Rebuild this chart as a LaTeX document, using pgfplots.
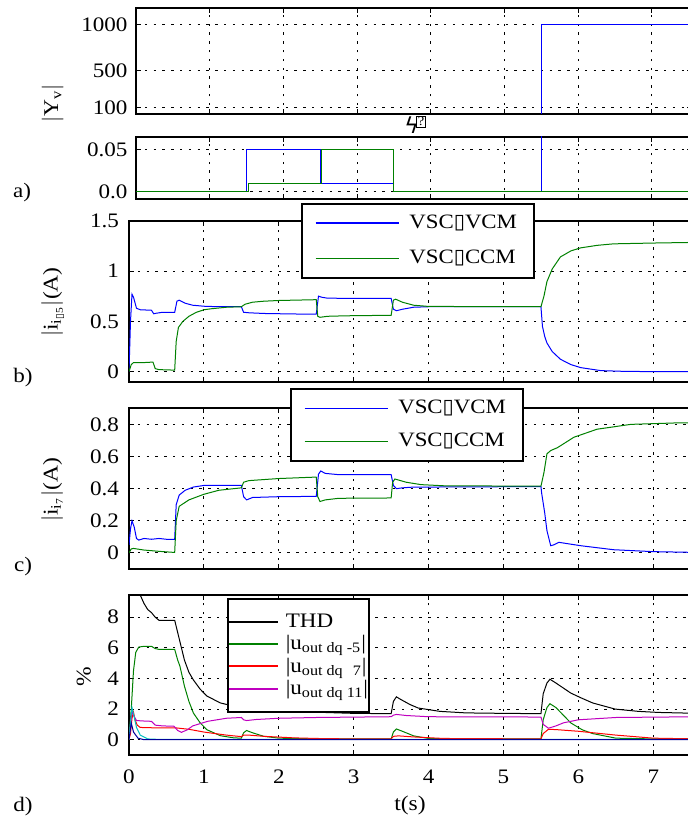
\documentclass[border=0pt]{standalone}
\usepackage{fontspec}
\setmainfont{Liberation Serif}[FakeStretch=1.12]
\newfontfamily\dejavu{DejaVu Sans}
\usepackage{amsmath}
\usepackage{pgfplots}
\pgfplotsset{compat=1.18}

\definecolor{mblue}{RGB}{0,0,255}
\definecolor{mgreen}{RGB}{0,128,0}
\definecolor{mred}{RGB}{255,0,0}
\definecolor{mmag}{RGB}{191,0,191}
\definecolor{mcyan}{RGB}{0,191,191}

% missing-glyph box as it appears in the original
\newcommand{\bx}{{\dejavu ▯}}

\pgfplotsset{
  panel/.style={
    scale only axis, anchor=north west,
    xmin=0, xmax=7.55,
    xtick={0,...,7},
    tick align=inside, major tick length=2.5pt,
    tick style={black, line width=0.5pt},
    grid=major,
    grid style={black, line width=0.5pt, dash pattern=on 1.2pt off 3.2pt},
    axis line style={line width=0.9pt},
    tick label style={font=\fontsize{10.3}{12}\selectfont},
    /pgf/number format/assume math mode=true,
    /pgf/number format/1000 sep={},
    scaled y ticks=false,
    yticklabel style={xshift=-1.5pt},
    no markers,
  },
}

\begin{document}
\begin{tikzpicture}

% ---------- a) upper part
\begin{axis}[panel, at={(68pt,-4pt)}, width=278.2pt, height=53pt,
  ymin=29, ymax=1176, ytick={100,500,1000}, xticklabels={},
  yticklabel style={xshift=0.8pt}]
\addplot[mblue, line width=0.5pt] coordinates {(5.5,0) (5.5,1000) (7.6,1000)};
\end{axis}

% ---------- a) lower part
\begin{axis}[panel, at={(68pt,-68.35pt)}, width=278.2pt, height=31.3pt,
  ymin=-0.009, ymax=0.0655, ytick={0,0.05}, yticklabels={0.0,0.05}, xticklabels={},
  yticklabel style={xshift=0.8pt}]
\addplot[mblue, line width=0.5pt] coordinates {(0,0) (1.5,0) (1.5,0.05) (2.5,0.05) (2.5,0.01) (3.5,0.01) (3.5,0) (5.5,0) (5.5,0.2)};
\addplot[mgreen, line width=0.5pt] coordinates {(0,0) (1.52,0) (1.52,0.01) (2.52,0.01) (2.52,0.05) (3.5,0.05) (3.5,0) (7.6,0)};
\end{axis}

% ---------- b)
\begin{axis}[panel, at={(64.5pt,-110.35pt)}, width=282.75pt, height=80.5pt,
  ymin=-0.1, ymax=1.5, ytick={0,0.5,1,1.5}, xticklabels={},
  ylabel={$|$i\textsubscript{i\textsubscript{\bx5}}$|$(A)},
  ylabel style={at={(axis description cs:-0.1264,0.495)}, anchor=base, font=\fontsize{10.5}{12}\selectfont},
  legend style={at={(axis description cs:0.3042,1.110)}, anchor=north west,
    draw=black, line width=0.9pt, fill=white,
    inner xsep=6.5pt, inner ysep=3.5pt, row sep=5.5pt, column sep=3pt,
    font=\fontsize{10.2}{12}\selectfont, cells={anchor=west}},
  legend image code/.code={\draw[#1, line width=0.7pt] (0pt,0pt) -- (41.5pt,0pt);}]
\addplot[mblue, line width=0.5pt] coordinates {
(0,0) (0.02,0.5) (0.04,0.77) (0.06,0.74) (0.1,0.63) (0.15,0.615) (0.3,0.61) (0.33,0.575)
(0.36,0.58) (0.45,0.59) (0.61,0.59) (0.64,0.7) (0.67,0.71) (0.75,0.68) (0.85,0.66) (1.0,0.65)
(1.2,0.645) (1.5,0.645) (1.53,0.59) (1.6,0.585) (1.8,0.578) (2.2,0.573) (2.5,0.571) (2.53,0.75)
(2.57,0.74) (2.65,0.73) (3.0,0.728) (3.5,0.728) (3.53,0.62) (3.57,0.605) (3.65,0.62) (3.8,0.64)
(4.0,0.645) (5.5,0.645) (5.52,0.45) (5.55,0.35) (5.58,0.285) (5.65,0.2) (5.76,0.123) (5.9,0.07)
(6.03,0.04) (6.3,0.01) (6.6,0.003) (7.0,0.0) (7.6,0.0)};
\addlegendentry{VSC\bx VCM}
\addplot[mgreen, line width=0.5pt] coordinates {
(0,0) (0.03,0.07) (0.06,0.09) (0.2,0.09) (0.32,0.095) (0.35,0.03) (0.4,0.02) (0.61,0.015)
(0.63,0.3) (0.66,0.44) (0.72,0.5) (0.8,0.55) (0.9,0.59) (1.0,0.615) (1.1,0.625) (1.3,0.64)
(1.5,0.645) (1.55,0.67) (1.65,0.69) (1.8,0.70) (2.0,0.707) (2.5,0.715) (2.52,0.55) (2.55,0.54)
(2.65,0.55) (2.9,0.555) (3.5,0.56) (3.53,0.71) (3.56,0.72) (3.65,0.69) (3.8,0.66) (4.0,0.648)
(5.5,0.645) (5.54,0.75) (5.58,0.895) (5.65,1.02) (5.76,1.14) (5.9,1.2) (6.03,1.23) (6.25,1.255)
(6.47,1.27) (7.0,1.278) (7.6,1.285)};
\addlegendentry{VSC\bx CCM}
\end{axis}

% ---------- c)
\begin{axis}[panel, at={(64.5pt,-204.15pt)}, width=282.75pt, height=80.35pt,
  ymin=-0.1, ymax=0.9, ytick={0,0.2,0.4,0.6,0.8}, xticklabels={},
  ylabel={$|$i\textsubscript{i\textsubscript{7}}$|$(A)},
  ylabel style={at={(axis description cs:-0.1264,0.492)}, anchor=base, font=\fontsize{10.5}{12}\selectfont},
  legend style={at={(axis description cs:0.2847,1.126)}, anchor=north west,
    draw=black, line width=0.9pt, fill=white,
    inner xsep=6.5pt, inner ysep=3.5pt, row sep=4.5pt, column sep=3pt,
    font=\fontsize{10.2}{12}\selectfont, cells={anchor=west}},
  legend image code/.code={\draw[#1, line width=0.7pt] (0pt,0pt) -- (41.5pt,0pt);}]
\addplot[mblue, line width=0.5pt] coordinates {
(0,0.05) (0.02,0.15) (0.04,0.2) (0.07,0.16) (0.1,0.09) (0.13,0.08) (0.2,0.09) (0.3,0.085)
(0.4,0.09) (0.5,0.085) (0.61,0.085) (0.63,0.3) (0.67,0.36) (0.75,0.39) (0.86,0.41) (1.0,0.42)
(1.5,0.42) (1.53,0.35) (1.57,0.33) (1.65,0.345) (2.0,0.35) (2.5,0.352) (2.53,0.49) (2.56,0.51)
(2.62,0.495) (2.8,0.487) (3.5,0.487) (3.53,0.42) (3.57,0.40) (3.65,0.405) (3.8,0.41) (4.0,0.41)
(5.5,0.413) (5.51,0.37) (5.55,0.25) (5.58,0.139) (5.63,0.045) (5.67,0.05) (5.74,0.066) (5.85,0.058)
(6.03,0.045) (6.47,0.02) (7.0,0.008) (7.6,0.003)};
\addlegendentry{VSC\bx VCM}
\addplot[mgreen, line width=0.5pt] coordinates {
(0,0) (0.03,0.025) (0.06,0.028) (0.2,0.018) (0.4,0.01) (0.61,0.003) (0.63,0.2) (0.67,0.29)
(0.8,0.33) (1.0,0.365) (1.2,0.39) (1.5,0.405) (1.53,0.44) (1.6,0.45) (2.0,0.463) (2.5,0.472)
(2.52,0.35) (2.55,0.32) (2.62,0.33) (2.8,0.34) (3.5,0.342) (3.52,0.44) (3.55,0.46) (3.7,0.44)
(3.9,0.425) (4.2,0.418) (5.5,0.415) (5.54,0.5) (5.58,0.617) (5.63,0.637) (5.72,0.655) (5.94,0.72)
(6.25,0.77) (6.7,0.80) (7.37,0.81) (7.6,0.81)};
\addlegendentry{VSC\bx CCM}
\end{axis}

% ---------- d)
\begin{axis}[panel, at={(64.5pt,-297.5pt)}, width=282.75pt, height=80pt,
  ymin=-1, ymax=9.45, ytick={0,2,4,6,8},
  xticklabel style={yshift=-4pt},
  xlabel={t(s)},
  xlabel style={at={(axis description cs:0.497,-0.3125)}, anchor=center, font=\fontsize{10.5}{12}\selectfont},
  ylabel={\%},
  ylabel style={at={(axis description cs:-0.068,0.4875)}, anchor=base, font=\fontsize{10.5}{12}\selectfont},
  legend style={at={(axis description cs:0.1728,0.981)}, anchor=north west,
    draw=black, line width=0.9pt, fill=white, inner xsep=0pt, inner ysep=7pt,
    row sep=1.5pt, column sep=3pt, font=\fontsize{10.3}{12}\selectfont,
    cells={anchor=west}, nodes={inner sep=0.5pt}},
  legend image code/.code={\draw[#1, line width=1.1pt] (0pt,0pt) -- (24.5pt,0pt);}]
\addplot[black, line width=0.5pt] coordinates {
(0,12) (0.1,10.5) (0.15,9.45) (0.2,8.9) (0.25,8.5) (0.3,8.3) (0.35,8.0) (0.4,7.8) (0.61,7.8)
(0.65,7.0) (0.68,6.4) (0.74,5.2) (0.8,4.4) (0.86,3.9) (0.95,3.3) (1.04,2.85) (1.22,2.4) (1.5,2.07)
(1.8,1.95) (2.2,1.88) (2.5,1.8) (2.55,1.85) (2.6,1.78) (3.0,1.72) (3.5,1.7) (3.53,2.5) (3.57,2.8)
(3.62,2.65) (3.75,2.3) (3.86,2.07) (4.15,1.85) (4.5,1.75) (5.0,1.72) (5.5,1.7) (5.53,3.0) (5.58,3.7)
(5.62,3.95) (5.7,3.7) (5.9,3.04) (6.05,2.7) (6.19,2.4) (6.49,2.0) (6.8,1.85) (7.07,1.78) (7.6,1.72)};
\addlegendentry{THD}
\addplot[mgreen, line width=0.5pt] coordinates {
(0,0) (0.03,2) (0.06,4.5) (0.09,5.7) (0.13,6.05) (0.2,6.1) (0.3,6.1) (0.35,5.95) (0.4,5.9)
(0.61,5.9) (0.65,5.2) (0.68,4.8) (0.74,3.5) (0.8,2.5) (0.86,1.74) (0.95,1.1) (1.04,0.65) (1.22,0.26)
(1.4,0.12) (1.5,0.1) (1.53,0.45) (1.57,0.6) (1.65,0.45) (1.8,0.22) (2.0,0.1) (2.5,0.05) (3.5,0.05)
(3.53,0.5) (3.57,0.7) (3.65,0.55) (3.8,0.25) (4.0,0.08) (4.5,0.05) (5.5,0.05) (5.53,1.3) (5.58,2.1)
(5.62,2.35) (5.7,2.1) (5.9,1.09) (6.05,0.65) (6.19,0.4) (6.5,0.1) (7.0,0.05) (7.6,0.05)};
\addlegendentry{|u\textsubscript{out dq -5}|}
\addplot[mred, line width=0.5pt] coordinates {
(0,0) (0.02,0.4) (0.04,1.4) (0.06,1.8) (0.08,1.3) (0.11,0.95) (0.15,0.8) (0.3,0.78) (0.61,0.78)
(0.8,0.68) (1.0,0.5) (1.3,0.3) (1.5,0.2) (1.53,0.3) (1.6,0.3) (1.8,0.22) (2.2,0.12) (2.5,0.08)
(3.0,0.05) (3.5,0.05) (3.53,0.22) (3.6,0.25) (3.8,0.18) (4.2,0.08) (5.5,0.05) (5.53,0.4) (5.6,0.68)
(5.7,0.66) (6.0,0.55) (6.5,0.3) (7.0,0.1) (7.6,0.05)};
\addlegendentry{|u\textsubscript{out dq\hspace{0.7em}7}|}
\addplot[mmag, line width=0.5pt] coordinates {
(0,0) (0.02,1.0) (0.04,1.9) (0.06,1.6) (0.1,1.25) (0.2,1.22) (0.3,1.2) (0.35,0.95) (0.45,0.9)
(0.6,0.88) (0.65,0.6) (0.7,0.48) (0.78,0.65) (0.85,0.9) (0.95,1.05) (1.05,1.2) (1.3,1.4) (1.5,1.45)
(1.53,1.3) (1.57,1.25) (1.7,1.32) (2.0,1.4) (2.5,1.45) (3.5,1.5) (3.53,1.6) (3.57,1.65) (3.7,1.58)
(4.0,1.5) (5.5,1.48) (5.53,1.0) (5.6,0.75) (5.7,0.9) (5.8,1.1) (6.0,1.3) (6.5,1.45) (7.6,1.5)};
\addlegendentry{|u\textsubscript{out dq 11}|}
\addplot[mcyan, line width=0.5pt, forget plot] coordinates {
(0,0) (0.02,1.2) (0.04,2.1) (0.06,1.7) (0.1,0.8) (0.15,0.3) (0.25,0.05) (0.4,0.02) (7.6,0.02)};
\addplot[mblue!60!black, line width=0.5pt, forget plot] coordinates {
(0,0) (0.03,1.1) (0.06,0.5) (0.12,0.1) (0.2,0.0) (7.6,0.0)};
\end{axis}

% panel tags, left label of a), broken-axis mark
\node[font=\fontsize{10.3}{12}\selectfont] at (11pt,-96.5pt) {a)};
\node[font=\fontsize{10.3}{12}\selectfont] at (11.5pt,-189pt) {b)};
\node[font=\fontsize{10.3}{12}\selectfont] at (11.5pt,-283.5pt) {c)};
\node[font=\fontsize{10.3}{12}\selectfont] at (11.5pt,-403.5pt) {d)};
\node[rotate=90, anchor=base, font=\fontsize{10.5}{12}\selectfont] at (29pt,-51.75pt) {$|$Y\textsubscript{v}$|$};
\node[font=\dejavu\fontsize{11}{12}\selectfont] at (205.8pt,-62.5pt) {ϟ};
\node[inner sep=0pt, font=\fontsize{6.5}{7}\selectfont] at (210.6pt,-60.8pt) {\fboxsep=0.4pt\fboxrule=0.4pt\fbox{?}};

\pgfresetboundingbox
\path[use as bounding box] (0,0) rectangle (344pt,-408.5pt);
\end{tikzpicture}
\end{document}
